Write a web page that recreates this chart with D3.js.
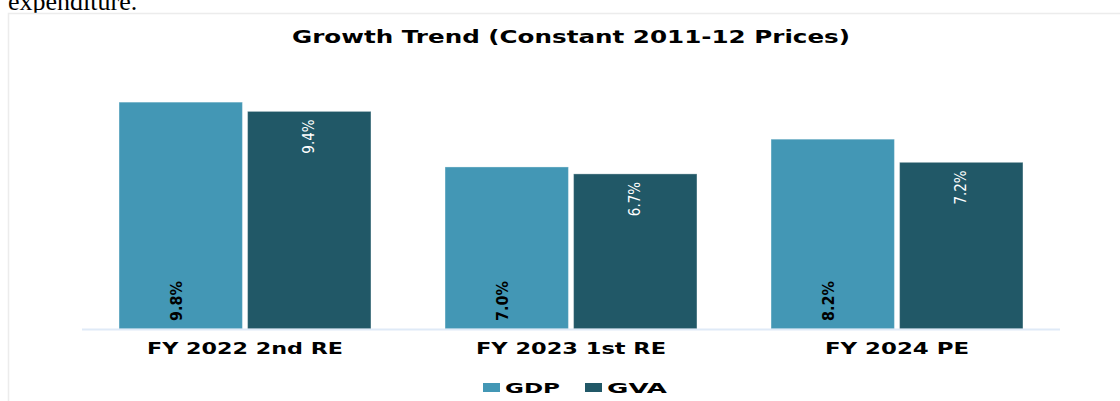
<!DOCTYPE html>
<html><head><meta charset="utf-8">
<script src="https://cdn.jsdelivr.net/npm/d3@7"></script>
<style>
html,body{margin:0;padding:0;background:#fff;overflow:hidden;}
</style></head>
<body><svg id="c" width="1120" height="401"></svg>
<script>
const categories = ["FY 2022 2nd RE", "FY 2023 1st RE", "FY 2024 PE"];
const seriesNames = ["GDP", "GVA"];
const gdpValues = [9.8, 7.0, 8.2];
const gvaValues = [9.4, 6.7, 7.2];
const colors = ["#4397b5", "#215867"];
const titleText = "Growth Trend (Constant 2011-12 Prices)";
const introText = "expenditure.";

const svg = d3.select("#c");
const W = 1120, H = 401;

// page text above the chart (cut off, as in the source page)
svg.append("text").attr("x", 8).attr("y", 10)
  .attr("font-family", "Liberation Serif").attr("font-size", 26)
  .attr("fill", "#000").text(introText);

// chart frame
svg.append("rect").attr("x", 8.5).attr("y", 13.5).attr("width", W).attr("height", H)
  .attr("fill", "#fff").attr("stroke", "#ececec").attr("stroke-width", 1.5);

const x0 = d3.scaleBand().domain(categories).range([82, 1060])
  .paddingInner(0.2272).paddingOuter(0.1136);
const x1 = d3.scaleBand().domain(seriesNames).range([0, x0.bandwidth()]).paddingInner(0.04);
const y = d3.scaleLinear().domain([0, 10]).range([329, 97.5]);

const data = categories.map((c, i) => ({cat: c, vals: [gdpValues[i], gvaValues[i]]}));

// helper: stretch text horizontally to a target width (wide display face look)
function fitWidth(sel, w) {
  sel.attr("textLength", w).attr("lengthAdjust", "spacingAndGlyphs");
}

// title
svg.append("text").attr("x", 571).attr("y", 43).attr("text-anchor", "middle")
  .attr("font-family", "DejaVu Sans").attr("font-weight", 700).attr("font-size", 17.5)
  .attr("fill", "#000").text(titleText).call(fitWidth, 558);

const g = svg.selectAll("g.grp").data(data).join("g").attr("class", "grp")
  .attr("transform", d => `translate(${x0(d.cat)},0)`);

g.selectAll("rect").data(d => d.vals.map((v, j) => ({s: seriesNames[j], v, j})))
  .join("rect")
  .attr("x", d => x1(d.s)).attr("width", x1.bandwidth())
  .attr("y", d => y(d.v)).attr("height", d => y(0) - y(d.v))
  .attr("fill", d => colors[d.j])
  .attr("stroke", "rgba(255,255,255,0.35)").attr("stroke-width", 1);

// baseline
svg.append("line").attr("x1", 82).attr("x2", 1060).attr("y1", 329.5).attr("y2", 329.5)
  .attr("stroke", "#dfeaf7").attr("stroke-width", 2);

// value labels
g.selectAll("text.lbl").data(d => d.vals.map((v, j) => ({s: seriesNames[j], v, j})))
  .join("text").attr("class", "lbl")
  .attr("transform", d => {
    const cx = x1(d.s) + x1.bandwidth() / 2;
    if (d.j === 0) return `translate(${cx - 4},${y(0) - 8}) rotate(-90)`;
    return `translate(${cx},${y(d.v) + 8}) rotate(-90)`;
  })
  .attr("text-anchor", d => d.j === 0 ? "start" : "end")
  .attr("dominant-baseline", "central")
  .attr("font-family", "DejaVu Sans Condensed, DejaVu Sans")
  .attr("font-stretch", "condensed")
  .attr("font-weight", d => d.j === 0 ? 700 : 400)
  .attr("font-size", d => d.j === 0 ? 16 : 15)
  .attr("fill", d => d.j === 0 ? "#000" : "#fff")
  .text(d => d.v.toFixed(1) + "%");

// category axis labels
const catWidths = [196, 190, 144];
svg.selectAll("text.cat").data(categories).join("text").attr("class", "cat")
  .attr("x", d => x0(d) + x0.bandwidth() / 2).attr("y", 353.5)
  .attr("text-anchor", "middle")
  .attr("font-family", "DejaVu Sans").attr("font-weight", 700).attr("font-size", 15)
  .attr("fill", "#000").text(d => d)
  .each(function(d, i) { d3.select(this).call(fitWidth, catWidths[i]); });

// legend
const leg = svg.append("g");
const legItems = [{n: "GDP", x: 483, w: 55}, {n: "GVA", x: 585, w: 60}];
legItems.forEach((it, i) => {
  leg.append("rect").attr("x", it.x).attr("y", 383).attr("width", 17).attr("height", 9)
    .attr("fill", colors[i]);
  leg.append("text").attr("x", it.x + 22).attr("y", 392.5)
    .attr("font-family", "DejaVu Sans").attr("font-weight", 700).attr("font-size", 14)
    .attr("fill", "#000").text(it.n).call(fitWidth, it.w);
});
</script></body></html>
